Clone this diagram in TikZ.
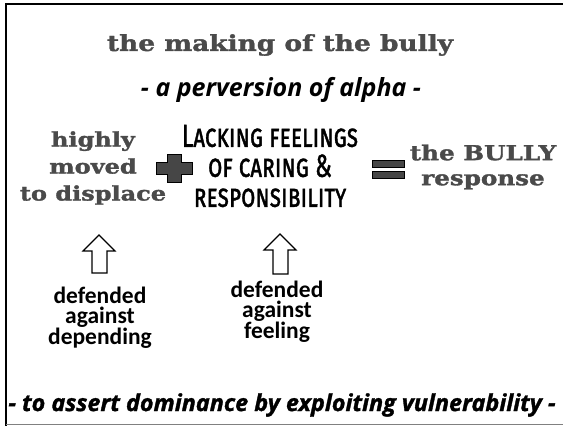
\documentclass[tikz,border=0pt]{standalone}
\usepackage{fontspec}
\setmainfont{DejaVu Serif}
\newfontfamily\slabfont[FakeStretch=1.2, FakeBold=1.6]{DejaVu Serif}
\newfontfamily\handfont{Open Sans}
\newfontfamily\heavyhand[FakeBold=1.4]{Open Sans}
\newfontfamily\capsfont[FakeStretch=0.72, FakeBold=1.2]{Fira Sans}
\newfontfamily\bodyfont{Carlito}
\definecolor{stamp}{RGB}{74,74,74}
\definecolor{signfill}{RGB}{70,70,70}
\tikzset{
  x=1pt, y=-1pt,
  slab/.style={font=\slabfont\bfseries\fontsize{20}{27}\selectfont, text=stamp, align=center, inner sep=0pt},
  hand/.style={font=\handfont\bfseries\itshape\fontsize{25}{28}\selectfont, text=black, inner sep=0pt},
  caps/.style={font=\capsfont\scshape\fontsize{32}{30}\selectfont, align=center, inner sep=0pt},
  plain/.style={font=\bodyfont\bfseries\fontsize{23.5}{19.5}\selectfont, align=center, inner sep=0pt},
  hollow/.style={draw=black, line width=1.2pt, fill=white, line join=miter},
  sign/.style={draw=black, line width=1pt, fill=signfill},
}
\begin{document}
\begin{tikzpicture}
\useasboundingbox (0,0) rectangle (563,426);
% frame
\draw[line width=2.2pt] (6,426) -- (6,4) -- (563,4);
\draw[line width=1.2pt, gray] (6,424.5) -- (563,424.5);

% headings
\node[slab, font=\slabfont\bfseries\fontsize{22}{26}\selectfont] (title) at (280,45) {the making of the bully};
\node[hand] (sub) at (281,90) {- a perversion of alpha -};

% equation row
\node[slab] (moved) at (93,168) {highly\\moved\\to displace};
\node[caps] (lack) at (270,166) {Lacking feelings\\of caring \&\\responsibility};
\node[slab, font=\slabfont\bfseries\fontsize{20.5}{25}\selectfont] (bully) at (483,167) {the BULLY\\response};

% plus sign
\coordinate (plus) at (174,168);
\draw[sign] ([shift={(-7,-14)}]plus) -- ([shift={(7,-14)}]plus) -- ([shift={(7,-6)}]plus)
  -- ([shift={(18,-6)}]plus) -- ([shift={(18,6)}]plus) -- ([shift={(7,6)}]plus)
  -- ([shift={(7,14)}]plus) -- ([shift={(-7,14)}]plus) -- ([shift={(-7,6)}]plus)
  -- ([shift={(-18,6)}]plus) -- ([shift={(-18,-6)}]plus) -- ([shift={(-7,-6)}]plus) -- cycle;

% equals sign
\coordinate (eq) at (388,169);
\draw[sign] ([shift={(-16,-9)}]eq) rectangle ([shift={(16,-2)}]eq);
\draw[sign] ([shift={(-16,2)}]eq) rectangle ([shift={(16,9)}]eq);

% hollow up arrows
\coordinate (tipA) at (99,235);
\draw[hollow] (tipA) -- ([shift={(16,16)}]tipA) -- ([shift={(8,16)}]tipA) -- ([shift={(8,38)}]tipA)
  -- ([shift={(-7,38)}]tipA) -- ([shift={(-7,16)}]tipA) -- ([shift={(-16,16)}]tipA) -- cycle;
\coordinate (tipB) at (280,234);
\draw[hollow] (tipB) -- ([shift={(16,16)}]tipB) -- ([shift={(8,16)}]tipB) -- ([shift={(8,40)}]tipB)
  -- ([shift={(-7,40)}]tipB) -- ([shift={(-7,16)}]tipB) -- ([shift={(-16,16)}]tipB) -- cycle;

% defences
\node[plain] (depA) at (100,318) {defended\\against\\depending};
\node[plain] (depB) at (277,312) {defended\\against\\feeling};

% closing line
\node[hand, font=\heavyhand\bfseries\itshape\fontsize{23.4}{26}\selectfont] (aim) at (282,405) {- to assert dominance by exploiting vulnerability -};
\end{tikzpicture}
\end{document}
